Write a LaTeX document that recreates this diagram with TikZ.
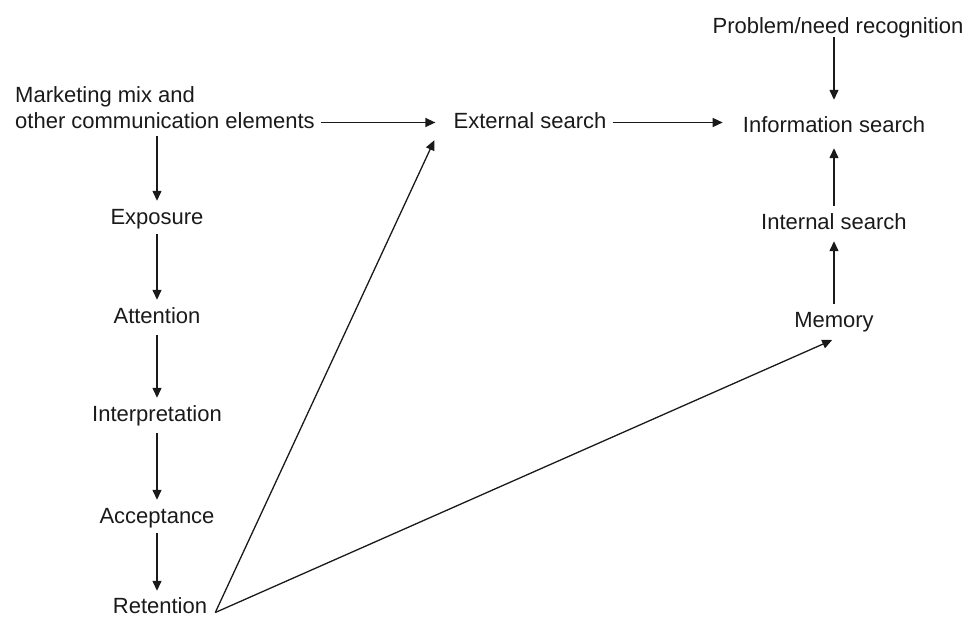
\documentclass[tikz,border=0pt]{standalone}
\usepackage{fontspec}
\setmainfont{Liberation Sans}
\usetikzlibrary{arrows.meta}
\definecolor{ink}{HTML}{1A1A1A}
\tikzset{
  lbl/.style={anchor=base, inner xsep=6pt, inner ysep=7pt, text height=16pt, text depth=5pt,
    font=\fontsize{22}{26}\selectfont, text=ink},
  arr/.style={draw=ink, line width=1.3pt, -{Triangle[length=10pt,width=9pt]}},
  ln/.style={draw=ink, line width=1.3pt}
}
\begin{document}
\begin{tikzpicture}[x=1pt,y=-1pt]
\useasboundingbox (0,0) rectangle (978,624);
% left column
\node[anchor=north west, align=left, inner xsep=6pt, inner ysep=7pt, font=\fontsize{22}{26}\selectfont, text=ink]
  (mix) at (9,79) {Marketing mix and\\other communication elements};
\node[lbl] (expo) at (157,224) {Exposure};
\node[lbl] (att) at (157,323) {Attention};
\node[lbl] (interp) at (157,421) {Interpretation};
\node[lbl] (acc) at (157,523) {Acceptance};
\node[lbl] (ret) at (160,613) {Retention};
% middle
\node[lbl] (ext) at (530,128) {External search};
% right column
\node[lbl] (prob) at (838,33) {Problem/need recognition};
\node[lbl] (info) at (834,132) {Information search};
\node[lbl] (int) at (834,229) {Internal search};
\node[lbl] (mem) at (834,327) {Memory};
% connectors
\draw[arr, shorten >=12pt] (mix.east |- ext.west) -- (ext.west);
\draw[arr, shorten >=14pt] (ext.east) -- (ext.east -| info.west);
\draw[arr] (expo.north |- mix.south) -- (expo.north);
\draw[arr, shorten <=-2pt] (expo.south) -- (att.north);
\draw[arr] (att.south) -- (interp.north);
\draw[arr] (interp.south) -- (acc.north);
\draw[arr, shorten <=-2pt, shorten >=-1pt] (acc.south) -- (acc.south |- ret.north);
\draw[arr, shorten <=-8pt, shorten >=9pt] (info.north |- prob.south) -- (info.north);
\draw[arr, shorten >=4pt] (int.north) -- (info.south);
\draw[arr] (mem.north) -- (int.south);
\coordinate (v) at ([xshift=2pt,yshift=-5pt]ret.east);
\draw[arr] (v) -- ([xshift=-13pt]ext.south west);
\draw[arr, shorten >=2pt] (v) -- (mem.south);
\end{tikzpicture}
\end{document}
